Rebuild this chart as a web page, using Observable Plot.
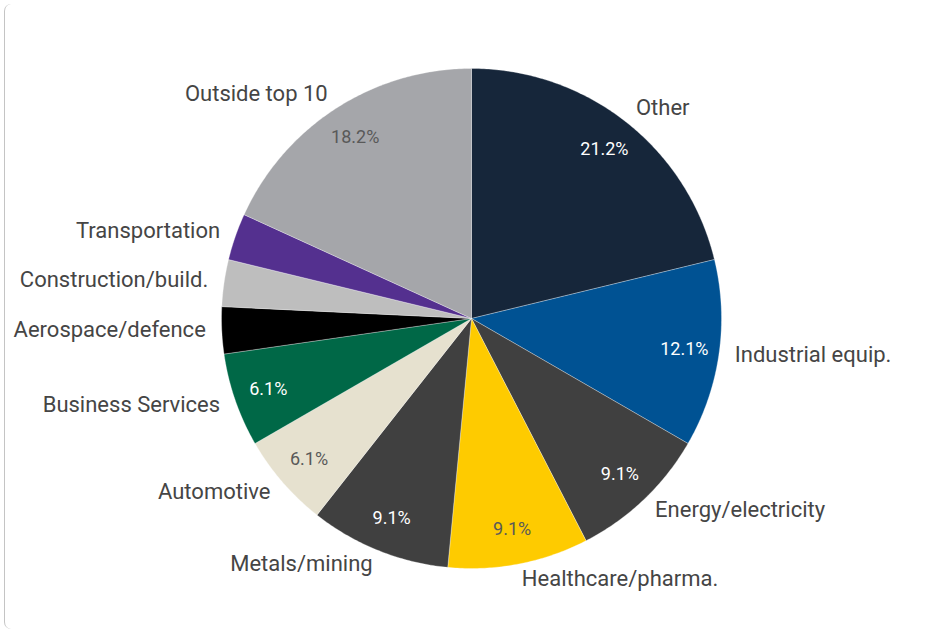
<!DOCTYPE html>
<html>
<head>
<meta charset="utf-8">
<script src="https://cdn.jsdelivr.net/npm/d3@7"></script>
<script src="https://cdn.jsdelivr.net/npm/@observablehq/plot@0.6"></script>
<style>
  html, body { margin: 0; padding: 0; background: #fff; overflow: hidden; }
  #frame { position: absolute; left: 4px; top: 4px; bottom: 1px; width: 2000px;
           border-left: 1px solid #c4c4c4; border-radius: 7px 0 0 7px; pointer-events: none; }
  #chart { position: absolute; left: 0; top: 0; }
</style>
</head>
<body>
<div id="frame"></div>
<div id="chart"></div>
<script>
// ---- data ----
const categories = ["Other", "Industrial equip.", "Energy/electricity", "Healthcare/pharma.",
  "Metals/mining", "Automotive", "Business Services", "Aerospace/defence",
  "Construction/build.", "Transportation", "Outside top 10"];
const counts = [7, 4, 3, 3, 3, 2, 2, 1, 1, 1, 6];
const sliceColors = ["#16263a", "#005293", "#404040", "#fecb00", "#404040", "#e6e1cf",
  "#006847", "#000000", "#bebebe", "#54308f", "#a5a6aa"];
const darkTextOn = ["Healthcare/pharma.", "Automotive", "Outside top 10"];

// ---- layout ----
const W = 927, H = 630;
const cx = 471, cy = 318;          // pie centre in pixels
const R = 250, rLabel = 266, rPct = 215;

const rows = categories.map((name, i) => ({name, count: counts[i]}));
const total = d3.sum(counts);
const arcs = d3.pie().sort(null).value(d => d.count)(rows);

// polygon vertices for each slice (data units = pixels, y up)
const pts = [];
for (const a of arcs) {
  const n = Math.max(4, Math.ceil((a.endAngle - a.startAngle) / 0.01));
  pts.push({name: a.data.name, x: 0, y: 0});
  for (let k = 0; k <= n; k++) {
    const t = a.startAngle + (a.endAngle - a.startAngle) * k / n;
    pts.push({name: a.data.name, x: R * Math.sin(t), y: R * Math.cos(t)});
  }
  pts.push({name: a.data.name, x: 0, y: 0});
}

const labels = arcs.map(a => {
  const m = (a.startAngle + a.endAngle) / 2;
  return {
    name: a.data.name,
    share: a.data.count / total,
    right: m < Math.PI,
    lx: rLabel * Math.sin(m), ly: rLabel * Math.cos(m) + 1,
    px: rPct * Math.sin(m), py: rPct * Math.cos(m)
  };
});
const pctFmt = d => (d.share * 100).toFixed(1) + "%";
const pctLabels = labels.filter(d => d.share >= 0.05);

const font = "Roboto, 'Open Sans', sans-serif";

const chart = Plot.plot({
  width: W, height: H,
  margin: 0,
  x: {domain: [-cx, W - cx], axis: null},
  y: {domain: [cy - H, cy], axis: null},
  color: {domain: categories, range: sliceColors},
  style: {fontFamily: font, background: "transparent"},
  marks: [
    Plot.line(pts, {x: "x", y: "y", z: "name", fill: "name", stroke: "#ffffff",
      strokeWidth: 0.6, strokeOpacity: 0.5, curve: "linear"}),
    Plot.text(labels.filter(d => d.right), {x: "lx", y: "ly", text: "name",
      textAnchor: "start", fontSize: 22, fill: "#454545"}),
    Plot.text(labels.filter(d => !d.right), {x: "lx", y: "ly", text: "name",
      textAnchor: "end", fontSize: 22, fill: "#454545"}),
    Plot.text(pctLabels.filter(d => !darkTextOn.includes(d.name)), {x: "px", y: "py",
      text: pctFmt, fontSize: 18, fill: "#ffffff"}),
    Plot.text(pctLabels.filter(d => darkTextOn.includes(d.name)), {x: "px", y: "py",
      text: pctFmt, fontSize: 18, fill: "#595959"})
  ]
});
document.getElementById("chart").appendChild(chart);
</script>
</body>
</html>
